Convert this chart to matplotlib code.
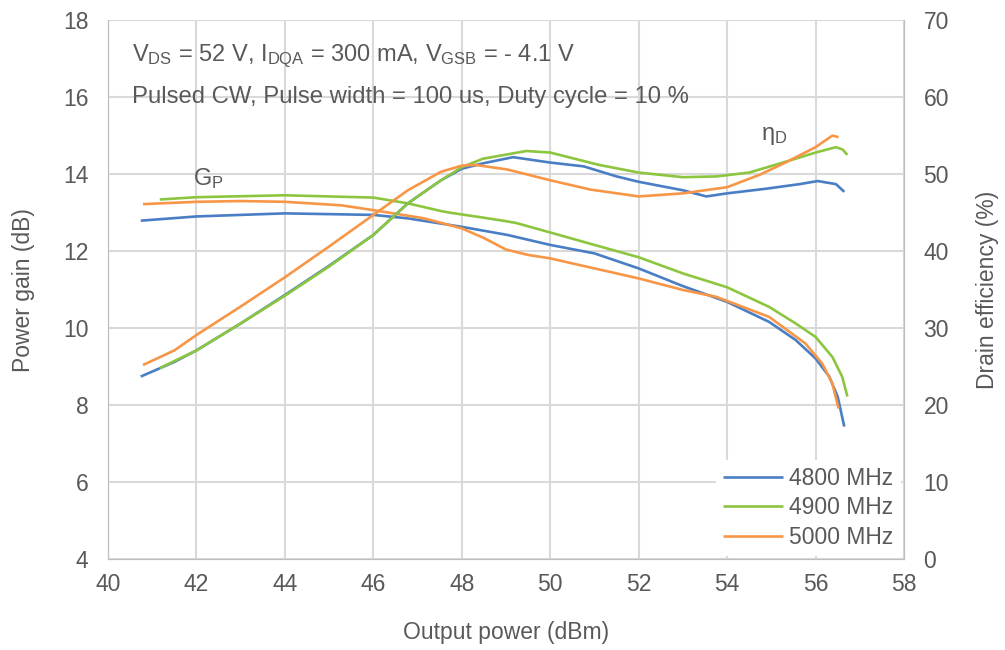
import matplotlib
matplotlib.use('Agg')
import matplotlib.pyplot as plt

plt.rcParams['font.family'] = ['Liberation Sans', 'DejaVu Sans']
plt.rcParams['mathtext.fontset'] = 'custom'
plt.rcParams['mathtext.rm'] = 'Liberation Sans'
plt.rcParams['mathtext.it'] = 'Liberation Sans:italic'

# power gain (dB) vs output power (dBm)
gain_4800_x = [40.74, 42, 44, 46, 46.78, 48, 49.03, 50, 51, 52, 53, 54, 54.95, 55.55, 56, 56.31, 56.5, 56.65]
gain_4800_y = [12.79, 12.90, 12.98, 12.94, 12.85, 12.63, 12.42, 12.16, 11.94, 11.55, 11.09, 10.68, 10.16, 9.69, 9.21, 8.74, 8.22, 7.44]

gain_4900_x = [41.17, 42, 44, 46, 46.78, 47.53, 47.72, 48.48, 48.93, 49.23, 49.98, 51, 52, 53, 54, 54.95, 55.55, 56, 56.38, 56.6, 56.72]
gain_4900_y = [13.34, 13.40, 13.45, 13.39, 13.24, 13.04, 13.0, 12.87, 12.79, 12.73, 12.49, 12.16, 11.84, 11.42, 11.06, 10.55, 10.12, 9.77, 9.25, 8.74, 8.22]

gain_5000_x = [40.79, 42, 43, 44, 45.27, 46.02, 47.15, 48, 48.5, 49.0, 49.5, 50, 51, 52, 53, 53.76, 54.95, 55.77, 56.15, 56.38, 56.52]
gain_5000_y = [13.22, 13.28, 13.30, 13.28, 13.19, 13.06, 12.85, 12.59, 12.34, 12.04, 11.90, 11.81, 11.55, 11.29, 10.99, 10.81, 10.29, 9.60, 9.08, 8.56, 7.91]

# drain efficiency (%)
eff_4800_x = [40.74, 41.5, 42, 43, 44, 45, 46, 46.78, 47.53, 48, 48.48, 49.16, 50, 50.76, 51.5, 52, 53, 53.53, 54, 54.88, 55.64, 56.05, 56.46, 56.65]
eff_4800_y = [23.7, 25.6, 27.1, 30.6, 34.3, 38.1, 42.1, 46.2, 49.2, 50.7, 51.4, 52.2, 51.5, 51.0, 49.7, 49.0, 47.9, 47.1, 47.5, 48.1, 48.7, 49.1, 48.7, 47.7]

eff_4900_x = [41.17, 42, 43, 44, 45, 46, 46.78, 47.53, 48, 48.48, 49.46, 50, 51.1, 52, 53, 53.76, 54.5, 55.32, 56, 56.46, 56.61, 56.72]
eff_4900_y = [24.8, 27.1, 30.6, 34.2, 38.0, 42.1, 46.2, 49.2, 50.9, 52.0, 53.0, 52.8, 51.2, 50.2, 49.6, 49.7, 50.2, 51.6, 52.8, 53.5, 53.2, 52.5]

eff_5000_x = [40.79, 41.5, 42, 43, 44, 45, 46, 46.78, 47.53, 48, 48.3, 49.03, 50, 50.9, 52, 53, 54, 54.73, 55.32, 56, 56.38, 56.52]
eff_5000_y = [25.2, 27.1, 29.1, 32.8, 36.6, 40.6, 44.7, 47.9, 50.3, 51.1, 51.2, 50.6, 49.2, 48.0, 47.1, 47.5, 48.3, 49.9, 51.5, 53.5, 55.0, 54.8]

labels = ['4800 MHz', '4900 MHz', '5000 MHz']
colors = ['#4A7EC4', '#8CC63F', '#F79646']

txt = '#595959'
grid_c = '#D9D9D9'
fs = 16.5

fig = plt.figure(figsize=(10.05, 6.5), dpi=100)
ax = fig.add_axes([0.1075, 0.14, 0.792, 0.829])
ax2 = ax.twinx()

gains = [(gain_4800_x, gain_4800_y), (gain_4900_x, gain_4900_y), (gain_5000_x, gain_5000_y)]
effs = [(eff_4800_x, eff_4800_y), (eff_4900_x, eff_4900_y), (eff_5000_x, eff_5000_y)]

handles = []
for (gx, gy), (ex, ey), lab, c in zip(gains, effs, labels, colors):
    h, = ax.plot(gx, gy, color=c, lw=1.9, label=lab, solid_capstyle='butt', solid_joinstyle='round')
    ax2.plot(ex, ey, color=c, lw=1.9, solid_capstyle='butt', solid_joinstyle='round')
    handles.append(h)

ax.set_xlim(40, 58)
ax.set_ylim(4, 18)
ax2.set_ylim(0, 70)
ax.set_xticks(range(40, 59, 2))
ax.set_yticks(range(4, 19, 2))
ax2.set_yticks(range(0, 71, 10))

ax.grid(True, color=grid_c, lw=1.5)
ax.set_axisbelow(True)

for a in (ax, ax2):
    a.tick_params(length=0, labelsize=fs, labelcolor=txt)
    a.tick_params(axis='y', pad=14)
    a.tick_params(axis='x', pad=10)
    for s in a.spines.values():
        s.set_color('#BFBFBF')
    a.spines['top'].set_visible(False)

ax.set_xlabel('Output power (dBm)', fontsize=fs, color=txt)
ax.set_ylabel('Power gain (dB)', fontsize=fs, color=txt)
ax2.set_ylabel('Drain efficiency (%)', fontsize=fs, color=txt)
ax.xaxis.set_label_coords(0.5, -0.115)
ax.yaxis.set_label_coords(-0.092, 0.5)
ax2.yaxis.set_label_coords(1.09, 0.5)

ax.text(40.55, 17.05, r'V$_{\rm DS}$ = 52 V, I$_{\rm DQA}$ = 300 mA, V$_{\rm GSB}$ = - 4.1 V',
        fontsize=17, color=txt, va='center')
ax.text(40.55, 16.0, 'Pulsed CW, Pulse width = 100 us, Duty cycle = 10 %',
        fontsize=17.2, color=txt, va='center')
ax.text(41.92, 13.71, r'G$_{\rm P}$', fontsize=17, color=txt, va='baseline')
ax.text(54.76, 14.88, r'η$_{\rm D}$', fontsize=17, color=txt, va='baseline')

leg = ax2.legend(handles, labels, loc='lower right', fontsize=fs, frameon=True,
                 facecolor='white', edgecolor='none', framealpha=1,
                 handlelength=2.6, handletextpad=0.3, labelspacing=0.28,
                 borderaxespad=0.15, borderpad=0.3)
for t in leg.get_texts():
    t.set_color(txt)

fig.savefig('out.png', dpi=100)
